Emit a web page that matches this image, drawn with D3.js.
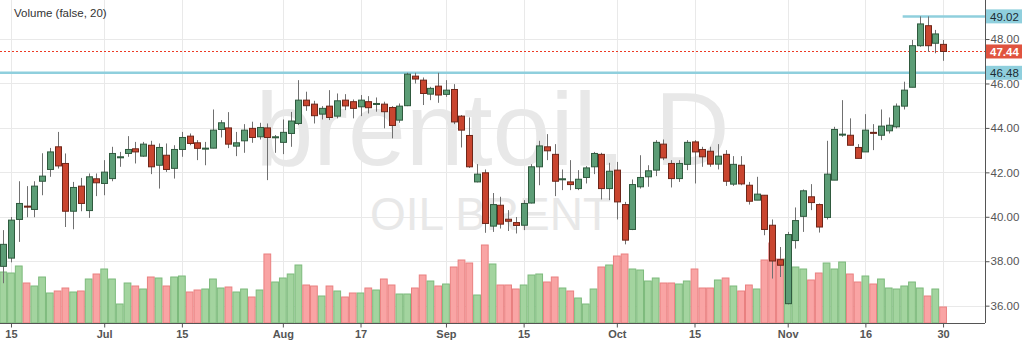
<!DOCTYPE html>
<html>
<head>
<meta charset="utf-8">
<script src="https://cdn.jsdelivr.net/npm/d3@7"></script>
<style>
  body { margin: 0; background: #fff; }
  svg { display: block; font-family: Arial, "Liberation Sans", sans-serif; }
</style>
</head>
<body>
<div id="chart"></div>
<script>
// daily bars, index 0 = Jun 15 (trading days only)
const firstIdx = -1;
const opens = [37.77, 38.14, 39.88, 40.48, 40.33, 41.60, 42.13, 43.15, 42.40, 40.25, 41.38, 40.28, 41.71, 41.50, 41.72, 42.70,
  42.85, 43.06, 42.73, 43.22, 42.32, 42.77, 42.18, 43.03, 43.63, 43.33, 43.09, 43.09, 43.93, 44.00, 43.18, 43.42,
  43.98, 43.60, 44.00, 43.60, 43.35, 43.75, 44.20, 45.25, 45.07, 44.62, 44.98, 44.53, 45.25, 45.18, 44.95, 45.18,
  45.10, 45.07, 44.92, 44.35, 45.00, 46.33, 46.15, 45.52, 45.88, 45.51, 45.73, 44.53, 43.66, 41.57, 41.98, 39.58,
  40.52, 39.89, 39.74, 39.62, 40.62, 42.25, 43.15, 42.81, 41.71, 41.57, 41.27, 41.77, 42.25, 42.81, 41.27, 42.10,
  40.55, 39.43, 41.35, 41.80, 42.10, 43.27, 42.40, 41.72, 42.36, 43.37, 43.03, 42.95, 42.37, 42.81, 41.47, 42.32,
  41.42, 40.75, 40.97, 39.62, 38.07, 36.09, 38.93, 40.02, 40.90, 40.55, 39.97, 41.65, 43.72, 43.67, 43.12, 42.92,
  43.80, 43.67, 43.87, 44.05, 44.98, 45.83, 47.70, 48.60, 47.81, 47.76];
const highs = [39.40, 39.99, 41.60, 41.38, 41.60, 42.86, 43.10, 43.82, 42.85, 41.57, 41.75, 41.95, 41.95, 42.55, 43.15, 42.92,
  43.63, 43.37, 43.37, 43.42, 43.30, 43.30, 43.22, 43.82, 43.75, 43.45, 43.37, 44.83, 44.35, 44.71, 43.82, 44.17,
  44.28, 44.23, 44.20, 43.68, 44.38, 44.72, 46.15, 45.63, 45.22, 44.98, 45.70, 45.55, 45.52, 45.28, 45.48, 45.43,
  45.37, 45.18, 44.98, 45.10, 46.48, 46.48, 46.27, 45.85, 46.48, 46.15, 45.97, 44.58, 44.47, 42.37, 42.13, 41.07,
  40.90, 40.30, 39.99, 40.75, 42.37, 43.42, 43.72, 43.27, 42.13, 42.55, 42.10, 42.28, 42.92, 42.88, 42.43, 42.47,
  40.67, 41.68, 42.77, 42.32, 43.45, 43.48, 42.55, 42.55, 43.45, 43.45, 43.15, 43.15, 43.27, 43.00, 42.73, 42.73,
  41.57, 41.80, 40.97, 39.88, 38.64, 39.32, 40.42, 41.23, 41.47, 40.60, 43.42, 44.05, 45.25, 44.43, 43.27, 44.62,
  44.17, 44.83, 44.47, 45.10, 46.08, 47.96, 49.02, 49.02, 48.41, 47.96];
const lows = [37.01, 37.95, 38.87, 39.98, 39.98, 40.97, 41.80, 42.17, 39.54, 39.44, 40.25, 39.95, 40.93, 40.97, 41.60, 42.25,
  42.70, 42.40, 42.70, 41.92, 41.27, 42.02, 41.72, 42.70, 43.22, 42.55, 42.32, 43.08, 43.57, 43.09, 42.73, 42.88,
  43.33, 43.48, 41.65, 42.88, 42.82, 43.15, 44.13, 44.77, 44.20, 44.38, 44.35, 44.43, 44.80, 44.43, 44.53, 44.65,
  44.73, 43.98, 43.53, 44.23, 44.98, 46.00, 45.03, 45.25, 45.13, 45.40, 44.17, 43.12, 42.20, 41.55, 39.28, 39.32,
  39.47, 39.36, 39.25, 39.40, 40.60, 41.42, 42.55, 40.93, 41.20, 41.20, 41.20, 41.50, 41.92, 40.78, 40.75, 39.88,
  38.76, 39.40, 41.27, 41.35, 41.83, 42.55, 41.32, 41.57, 42.10, 41.50, 42.25, 42.25, 42.13, 41.39, 41.39, 41.42,
  40.55, 40.75, 39.17, 37.22, 37.29, 36.06, 38.57, 39.32, 40.30, 39.29, 39.88, 41.65, 43.60, 43.22, 42.63, 42.92,
  43.00, 43.45, 43.75, 43.98, 44.83, 45.83, 47.65, 47.43, 47.36, 47.02];
const closes = [38.76, 39.85, 40.60, 40.44, 41.38, 41.83, 42.92, 42.29, 40.25, 41.32, 40.60, 41.80, 41.53, 42.01, 42.85, 42.70,
  43.03, 42.92, 43.27, 42.25, 43.12, 42.13, 43.03, 43.57, 43.30, 43.08, 43.09, 43.90, 44.23, 43.27, 43.33, 43.90,
  43.57, 44.02, 43.57, 43.60, 43.80, 44.31, 45.25, 45.00, 44.55, 44.88, 44.47, 45.22, 44.99, 44.88, 45.25, 44.91,
  45.10, 44.73, 44.11, 44.98, 46.42, 46.20, 45.55, 45.78, 45.48, 45.70, 44.27, 43.90, 42.25, 41.92, 39.70, 40.55,
  39.67, 39.80, 39.61, 40.60, 42.25, 43.19, 42.97, 41.60, 41.71, 41.45, 41.69, 42.20, 42.85, 41.27, 42.05, 40.67,
  38.95, 41.45, 41.77, 42.07, 43.35, 42.65, 41.72, 42.40, 43.35, 42.92, 42.70, 42.37, 42.73, 41.60, 42.36, 41.48,
  40.70, 41.02, 39.43, 38.01, 37.82, 39.20, 39.83, 41.17, 40.64, 39.54, 41.92, 43.93, 43.72, 43.22, 42.63, 43.90,
  43.78, 44.08, 44.12, 44.98, 45.70, 47.70, 48.68, 47.70, 48.23, 47.44];
const volumes = [51, 50, 57, 40, 37, 46, 30, 32, 35, 31, 32, 44, 49, 54, 44, 19,
  40, 37, 34, 46, 45, 37, 46, 47, 31, 33, 34, 44, 35, 36, 31, 34,
  26, 33, 69, 41, 45, 49, 58, 38, 37, 27, 37, 32, 26, 30, 30, 35,
  33, 44, 38, 29, 29, 35, 48, 42, 37, 39, 56, 63, 60, 28, 78, 59,
  38, 38, 34, 38, 48, 49, 41, 46, 35, 32, 25, 19, 34, 56, 58, 67,
  69, 54, 53, 42, 45, 40, 40, 39, 42, 54, 35, 35, 43, 45, 37, 32,
  38, 34, 63, 80, 64, 64, 56, 54, 43, 50, 60, 54, 61, 49, 41, 47,
  39, 44, 35, 34, 37, 41, 35, 27, 34, 16];

const tickIdx = [0, 12, 22, 35, 45, 56, 66, 78, 88, 100, 110, 120];
const tickLabels = ["15", "Jul", "15", "Aug", "17", "Sep", "15", "Oct", "15", "Nov", "16", "30"];
const priceTicks = [36, 38, 40, 42, 44, 46, 48];

// horizontal levels drawn on the chart
const levelValues = [49.02, 46.48];
const levelFromIdx = [114.8, null];
const lastPrice = 47.44;

const bars = opens.map((o, k) => ({
  i: firstIdx + k, o: o, h: highs[k], l: lows[k], c: closes[k], v: volumes[k]
}));

const W = 1024, H = 343;
const plotW = 985, plotH = 323;

const x = d3.scaleLinear().domain([-1.416, 125.4]).range([0, plotW]);
const y = d3.scaleLinear().domain([35.22, 49.757]).range([plotH, 0]);
const yv = d3.scaleLinear().domain([0, d3.max(volumes)]).range([plotH, plotH - 80]);
const step = x(1) - x(0);

const svg = d3.select("#chart").append("svg")
  .attr("width", W)
  .attr("height", H);

// grid
svg.append("g").selectAll("line")
  .data(priceTicks)
  .enter().append("line")
  .attr("x1", 0).attr("x2", plotW)
  .attr("y1", d => Math.round(y(d)) + 0.5)
  .attr("y2", d => Math.round(y(d)) + 0.5)
  .style("stroke", "#e9e9e9");

svg.append("g").selectAll("line")
  .data(tickIdx)
  .enter().append("line")
  .attr("x1", d => Math.round(x(d)) + 0.5)
  .attr("x2", d => Math.round(x(d)) + 0.5)
  .attr("y1", 0).attr("y2", plotH)
  .style("stroke", "#e9e9e9");

// watermark
svg.append("text")
  .attr("x", plotW / 2).attr("y", 165)
  .attr("text-anchor", "middle")
  .style("font-size", "104px")
  .style("fill", "#e8e8e8")
  .text("brentoil, D");
svg.append("text")
  .attr("x", plotW / 2 - 2).attr("y", 230)
  .attr("text-anchor", "middle")
  .style("font-size", "46px")
  .style("fill", "#e8e8e8")
  .text("OIL BRENT");

// legend
svg.append("text")
  .attr("x", 14).attr("y", 17)
  .style("font-size", "11.5px")
  .style("fill", "#333")
  .text("Volume (false, 20)");

// volume
svg.append("g").selectAll("rect")
  .data(bars)
  .enter().append("rect")
  .attr("x", d => x(d.i) - step / 2 + 0.5)
  .attr("width", step - 1)
  .attr("y", d => yv(d.v))
  .attr("height", d => plotH - yv(d.v))
  .style("fill", d => d.c >= d.o ? "#a3d49f" : "#f9a4a4")
  .style("stroke", d => d.c >= d.o ? "#7dba7c" : "#e98080")
  .style("stroke-width", 1);

// levels
svg.append("g").selectAll("line")
  .data(levelValues)
  .enter().append("line")
  .attr("x1", (d, k) => levelFromIdx[k] === null ? 0 : x(levelFromIdx[k]))
  .attr("x2", plotW)
  .attr("y1", d => y(d)).attr("y2", d => y(d))
  .style("stroke", "#8fcfdd")
  .style("stroke-width", 2.5);

svg.append("line")
  .attr("x1", 0).attr("x2", plotW)
  .attr("y1", Math.round(y(lastPrice)) + 0.5)
  .attr("y2", Math.round(y(lastPrice)) + 0.5)
  .style("stroke", "#ec3b25")
  .style("stroke-dasharray", "2,2");

// candles
const candles = svg.append("g").selectAll("g")
  .data(bars)
  .enter().append("g");

candles.append("line")
  .attr("x1", d => Math.round(x(d.i)) + 0.5)
  .attr("x2", d => Math.round(x(d.i)) + 0.5)
  .attr("y1", d => y(d.h))
  .attr("y2", d => y(d.l))
  .style("stroke", "#707070");

candles.append("rect")
  .attr("x", d => Math.round(x(d.i)) - 2.5)
  .attr("width", 6)
  .attr("y", d => y(Math.max(d.o, d.c)))
  .attr("height", d => Math.max(1, Math.abs(y(d.o) - y(d.c))))
  .style("fill", d => d.c >= d.o ? "#5c9d76" : "#c9452f")
  .style("stroke", d => d.c >= d.o ? "#2f5a3e" : "#6e2619")
  .style("stroke-width", 1);

// axes
const yAxis = d3.axisRight(y)
  .tickValues(priceTicks)
  .tickSize(4)
  .tickFormat(d3.format(".2f"));
const gy = svg.append("g")
  .attr("transform", `translate(${plotW + 0.5},0)`)
  .call(yAxis);
gy.select(".domain").attr("d", `M0,0V${plotH}`).style("stroke", "#555");
gy.selectAll(".tick line").style("stroke", "#555");
gy.selectAll("text")
  .attr("x", 5)
  .style("font-size", "11.5px")
  .style("font-family", "Arial, 'Liberation Sans', sans-serif")
  .style("fill", "#555");

const xAxis = d3.axisBottom(x)
  .tickValues(tickIdx)
  .tickSize(4)
  .tickFormat((d, k) => tickLabels[k]);
const gx = svg.append("g")
  .attr("transform", `translate(0,${plotH + 0.5})`)
  .call(xAxis);
gx.select(".domain").attr("d", `M0,0H${plotW}`).style("stroke", "#555");
gx.selectAll(".tick line").style("stroke", "#555");
gx.selectAll("text")
  .attr("y", 7)
  .style("font-size", "11px")
  .style("font-weight", "bold")
  .style("font-family", "Arial, 'Liberation Sans', sans-serif")
  .style("fill", "#555");

// price labels on the axis
const labels = levelValues.map(v => ({ v: v, fill: "#8fcfdd", text: "#1c2b33" }))
  .concat([{ v: lastPrice, fill: "#e0533f", text: "#fff" }]);
const lab = svg.append("g").selectAll("g")
  .data(labels)
  .enter().append("g")
  .attr("transform", d => `translate(${plotW + 1},${y(d.v)})`);
lab.append("rect")
  .attr("x", 0).attr("y", -7)
  .attr("width", 36).attr("height", 14)
  .style("fill", d => d.fill);
lab.append("text")
  .attr("x", 4).attr("y", 4.5)
  .style("font-size", "11.5px")
  .style("font-weight", d => d.text === "#fff" ? "bold" : "normal")
  .style("fill", d => d.text)
  .text(d => d3.format(".2f")(d.v));
</script>
</body>
</html>
